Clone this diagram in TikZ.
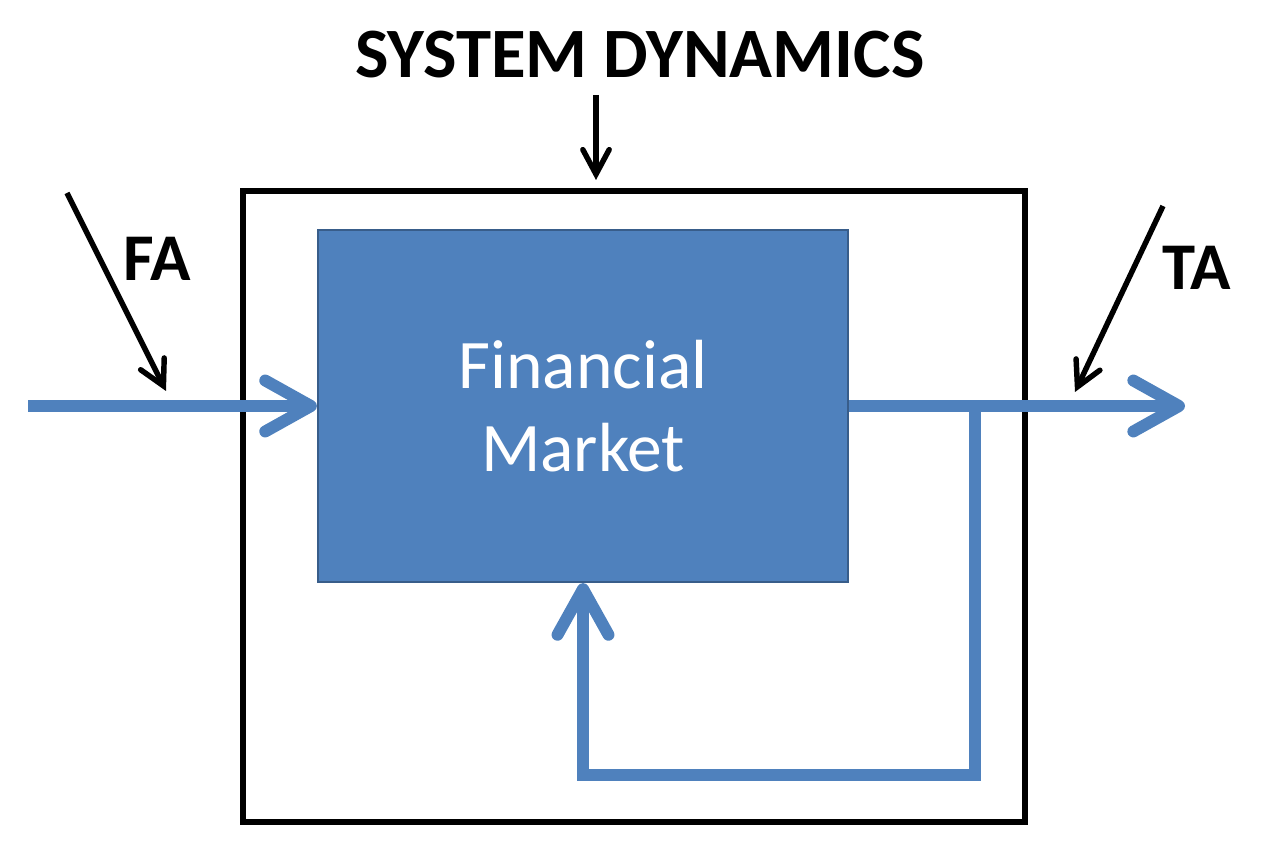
\documentclass[tikz,border=0pt]{standalone}
\usepackage{fontspec}
\setmainfont{Carlito}
\usetikzlibrary{arrows.meta}
\definecolor{blu}{HTML}{4F81BD}
\definecolor{bluedge}{HTML}{385D8A}
\begin{document}
\begin{tikzpicture}[x=0.02cm,y=-0.02cm,
  lbl/.style={font=\bfseries\fontsize{38}{40}\selectfont, inner sep=0pt},
  ttl/.style={font=\bfseries\fontsize{40.3}{42}\selectfont, inner sep=0pt},
  outerbox/.style={draw=black, line width=3.1pt, minimum width=15.64cm, minimum height=12.62cm, inner sep=0pt},
  mktbox/.style={draw=bluedge, line width=1.3pt, fill=blu, minimum width=10.6cm, minimum height=7.04cm, inner sep=0pt,
    text=white, align=center, font=\fontsize{39.6}{47.6}\selectfont},
  blkarrow/.style={draw=black, line width=3.1pt, -{Straight Barb[length=14pt,width=15pt,line cap=round]}},
  bluline/.style={draw=blu, line width=6.8pt, line join=miter},
  bluarrow/.style={bluline, -{Straight Barb[length=26pt,width=29pt,line cap=round,line join=round]}}
]
\useasboundingbox (0,0) rectangle (1268,864);
\node[ttl] (title) at (640,55) {SYSTEM DYNAMICS};
\node[outerbox] (sys) at (634,506.5) {};
\node[mktbox] (mkt) at (583,406) {Financial\\Market};
\coordinate (sdtop) at (596,95);
\coordinate (sdtip) at (596,180);
\draw[blkarrow] (sdtop) -- (sdtip);
\coordinate (inStart) at (28,406);
\draw[bluarrow] (inStart) -- (mkt.west);
\coordinate (outEnd) at (1185,406);
\draw[bluarrow] (mkt.east) -- (outEnd);
\coordinate (fbTop) at (975,406);
\coordinate (fbR) at (975,775);
\coordinate (fbL) at (583,775);
\draw[bluarrow] (fbTop) -- (fbR) -- (fbL) -- (mkt.south);
\coordinate (faStart) at (67,193);
\coordinate (faTip) at (166,391);
\draw[blkarrow] (faStart) -- (faTip);
\coordinate (taStart) at (1163,206);
\coordinate (taTip) at (1075,392);
\draw[blkarrow] (taStart) -- (taTip);
\node[lbl] (FA) at (157,259) {FA};
\node[lbl] (TA) at (1197,268) {TA};
\end{tikzpicture}
\end{document}
